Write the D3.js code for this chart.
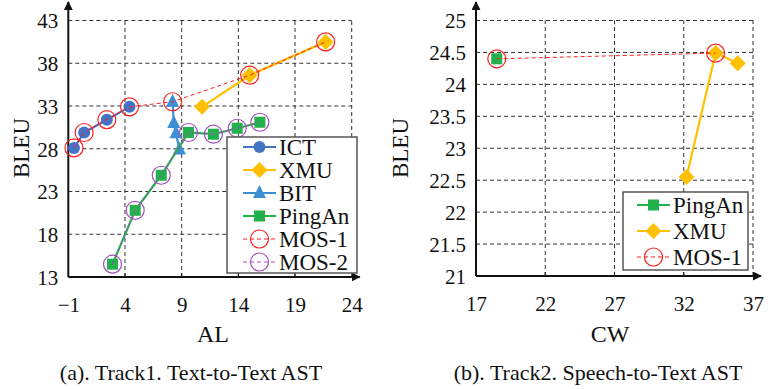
<!DOCTYPE html>
<html><head><meta charset="utf-8">
<script src="https://cdn.jsdelivr.net/npm/d3@7"></script>
<style>body{margin:0;background:#fff}svg{display:block}
svg text{font-family:'Liberation Serif','Times New Roman',Tinos,'DejaVu Serif',serif !important;fill:#111}</style>
</head><body><svg id="c" width="768" height="389"></svg>
<script>
// ---- Data: Track1 (AL vs BLEU) ----
const ictAL = [-0.5, 0.4, 2.4, 4.4];
const ictBLEU = [28.1, 29.9, 31.4, 32.9];
const xmu1AL = [10.8, 15.0, 21.7];
const xmu1BLEU = [32.9, 36.6, 40.5];
const bitAL = [8.8, 8.5, 8.3, 8.2];
const bitBLEU = [27.9, 29.8, 31.0, 33.5];
const pingan1AL = [2.9, 4.9, 7.2, 9.6, 11.8, 13.9, 15.9];
const pingan1BLEU = [14.5, 20.8, 24.9, 29.9, 29.7, 30.4, 31.1];
const mos1aAL = [-0.5, 0.4, 2.4, 4.4, 8.2, 15.0, 21.7];
const mos1aBLEU = [28.1, 29.9, 31.4, 32.9, 33.5, 36.6, 40.5];
const mos2aAL = [2.9, 4.9, 7.2, 9.6, 11.8, 13.9, 15.9];
const mos2aBLEU = [14.5, 20.8, 24.9, 29.9, 29.7, 30.4, 31.1];
const xTicksA = [-1, 4, 9, 14, 19, 24];
const yTicksA = [13, 18, 23, 28, 33, 38, 43];
// ---- Data: Track2 (CW vs BLEU) ----
const pingan2CW = [18.5];
const pingan2BLEU = [24.4];
const xmu2CW = [32.2, 34.3, 35.9];
const xmu2BLEU = [22.55, 24.49, 24.33];
const mos1bCW = [18.5, 34.3];
const mos1bBLEU = [24.4, 24.49];
const xTicksB = [17, 22, 27, 32, 37];
const yTicksB = [21, 21.5, 22, 22.5, 23, 23.5, 24, 24.5, 25];

const C = {ict:"#4472C4", xmu:"#FFC000", bit:"#3E8ED6", ping:"#22B14C", mos1:"#FF2020", mos2:"#A450B8"};
const FONT = "'Liberation Serif','Times New Roman',Tinos,'DejaVu Serif',serif";
const svg = d3.select("#c");
const zip = (a,b)=>a.map((v,i)=>[v,b[i]]);

svg.append("defs").append("marker").attr("id","arr").attr("viewBox","0 0 10 10")
  .attr("refX",9).attr("refY",5).attr("markerWidth",9).attr("markerHeight",9).attr("markerUnits","userSpaceOnUse")
  .attr("orient","auto").append("path").attr("d","M0,0L10,5L0,10Z").attr("fill","#111");

function marker(g, type, x, y, color){
  if(type==="circle") g.append("circle").attr("cx",x).attr("cy",y).attr("r",6).attr("fill",color);
  else if(type==="diamond") g.append("path").attr("d",`M${x},${y-8}L${x+8},${y}L${x},${y+8}L${x-8},${y}Z`).attr("fill",color);
  else if(type==="triangle") g.append("path").attr("d",`M${x},${y-8}L${x+6.5},${y+5}L${x-6.5},${y+5}Z`).attr("fill",color);
  else if(type==="square") g.append("rect").attr("x",x-5.5).attr("y",y-5.5).attr("width",11).attr("height",11).attr("fill",color);
  else if(type==="open") g.append("circle").attr("cx",x).attr("cy",y).attr("r",9).attr("fill","none").attr("stroke",color).attr("stroke-width",1.2);
}

function txt(g){ return g.append("text").attr("font-family",FONT); }

function panel(o){
  const x = d3.scaleLinear().domain(o.xd).range(o.xr);
  const y = d3.scaleLinear().domain(o.yd).range(o.yr);
  const g = svg.append("g");
  o.xTicks.slice(1).forEach(t=>g.append("line").attr("x1",x(t)).attr("x2",x(t)).attr("y1",o.yr[0]).attr("y2",o.yr[1])
    .attr("stroke","#333").attr("stroke-width",1).attr("stroke-dasharray","4,3"));
  o.yTicks.slice(1).forEach(t=>g.append("line").attr("x1",o.xr[0]).attr("x2",o.xr[1]).attr("y1",y(t)).attr("y2",y(t))
    .attr("stroke","#333").attr("stroke-width",1).attr("stroke-dasharray","4,3"));
  const ax = d3.axisBottom(x).tickValues(o.xTicks).tickSize(0).tickPadding(0).tickFormat(d3.format("d"));
  const ga = g.append("g").attr("transform",`translate(0,${o.yr[0]})`).call(ax).attr("font-family",FONT).attr("font-size",21);
  ga.select(".domain").remove();
  ga.selectAll("text").attr("dy",null).attr("y",35);
  const ay = d3.axisLeft(y).tickValues(o.yTicks).tickSize(0).tickPadding(0).tickFormat(o.yfmt);
  const gy = g.append("g").attr("transform",`translate(${o.xr[0]},0)`).call(ay).attr("font-family",FONT).attr("font-size",21);
  gy.select(".domain").remove();
  gy.selectAll("text").attr("x",-10).attr("dy","0.35em");
  o.xTicks.slice(1,-1).forEach(t=>g.append("line").attr("x1",x(t)).attr("x2",x(t)).attr("y1",o.yr[0]).attr("y2",o.yr[0]-4).attr("stroke","#111"));
  g.append("line").attr("x1",o.xr[0]).attr("x2",o.xr[1]+8).attr("y1",o.yr[0]).attr("y2",o.yr[0]).attr("stroke","#111").attr("stroke-width",2).attr("marker-end","url(#arr)");
  g.append("line").attr("x1",o.xr[0]).attr("x2",o.xr[0]).attr("y1",o.yr[0]).attr("y2",2).attr("stroke","#111").attr("stroke-width",2).attr("marker-end","url(#arr)");
  txt(g).attr("x",o.xt[0]).attr("y",o.xt[1]).attr("text-anchor","middle").attr("font-size",24).text(o.xlabel);
  txt(g).attr("transform",`translate(${o.yt[0]},${o.yt[1]}) rotate(-90)`).attr("text-anchor","middle").attr("dy","0.35em").attr("font-size",23).text("BLEU");
  txt(g).attr("x",o.cap[0]).attr("y",o.cap[1]).attr("text-anchor","middle").attr("font-size",22).text(o.caption);
  const line = d3.line().x(d=>x(d[0])).y(d=>y(d[1]));
  o.series.forEach(s=>{
    g.append("path").attr("d",line(s.pts)).attr("fill","none").attr("stroke",s.color).attr("stroke-width",2.2);
    s.pts.forEach(p=>marker(g,s.type,x(p[0]),y(p[1]),s.color));
  });
  o.mos.forEach(s=>{
    g.append("path").attr("d",line(s.pts)).attr("fill","none").attr("stroke",s.color).attr("stroke-width",1).attr("stroke-dasharray","4,3");
    s.pts.forEach(p=>marker(g,"open",x(p[0]),y(p[1]),s.color));
  });
  const L = o.legend;
  g.append("rect").attr("x",L.x).attr("y",L.y).attr("width",L.w).attr("height",L.h).attr("fill","#fff").attr("stroke","#555").attr("stroke-width",1.5);
  L.items.forEach((it,i)=>{
    const yy = L.y0 + i*L.dy;
    g.append("line").attr("x1",L.lx).attr("x2",L.lx+33).attr("y1",yy).attr("y2",yy).attr("stroke",it.color)
      .attr("stroke-width",it.type==="open"?1:2.2).attr("stroke-dasharray",it.type==="open"?"4,3":null);
    marker(g,it.type,L.lx+16.5,yy,it.color);
    txt(g).attr("x",L.lx+36).attr("y",yy).attr("dy","0.35em").attr("font-size",23).text(it.name);
  });
}

panel({
  xd:[-1,24], xr:[68.3,351.7], yd:[13,43], yr:[277,20.5],
  xTicks:xTicksA, yTicks:yTicksA, yfmt:d3.format("d"),
  xlabel:"AL", xt:[213,342], yt:[21,148], cap:[191,380], caption:"(a). Track1. Text-to-Text AST",
  series:[
    {type:"circle", color:C.ict, pts:zip(ictAL,ictBLEU)},
    {type:"diamond", color:C.xmu, pts:zip(xmu1AL,xmu1BLEU)},
    {type:"triangle", color:C.bit, pts:zip(bitAL,bitBLEU)},
    {type:"square", color:C.ping, pts:zip(pingan1AL,pingan1BLEU)}
  ],
  mos:[
    {color:C.mos1, pts:zip(mos1aAL,mos1aBLEU)},
    {color:C.mos2, pts:zip(mos2aAL,mos2aBLEU)}
  ],
  legend:{x:227,y:137,w:130,h:136,y0:147,dy:23,lx:243,items:[
    {name:"ICT",type:"circle",color:C.ict},
    {name:"XMU",type:"diamond",color:C.xmu},
    {name:"BIT",type:"triangle",color:C.bit},
    {name:"PingAn",type:"square",color:C.ping},
    {name:"MOS-1",type:"open",color:C.mos1},
    {name:"MOS-2",type:"open",color:C.mos2}
  ]}
});

panel({
  xd:[17,37], xr:[476,753], yd:[21,25], yr:[276,20.5],
  xTicks:xTicksB, yTicks:yTicksB, yfmt:d3.format("~g"),
  xlabel:"CW", xt:[610,342], yt:[400,148], cap:[598,380], caption:"(b). Track2. Speech-to-Text AST",
  series:[
    {type:"square", color:C.ping, pts:zip(pingan2CW,pingan2BLEU)},
    {type:"diamond", color:C.xmu, pts:zip(xmu2CW,xmu2BLEU)}
  ],
  mos:[
    {color:C.mos1, pts:zip(mos1bCW,mos1bBLEU)}
  ],
  legend:{x:623,y:192,w:125,h:78,y0:205,dy:26,lx:637,items:[
    {name:"PingAn",type:"square",color:C.ping},
    {name:"XMU",type:"diamond",color:C.xmu},
    {name:"MOS-1",type:"open",color:C.mos1}
  ]}
});
</script></body></html>
